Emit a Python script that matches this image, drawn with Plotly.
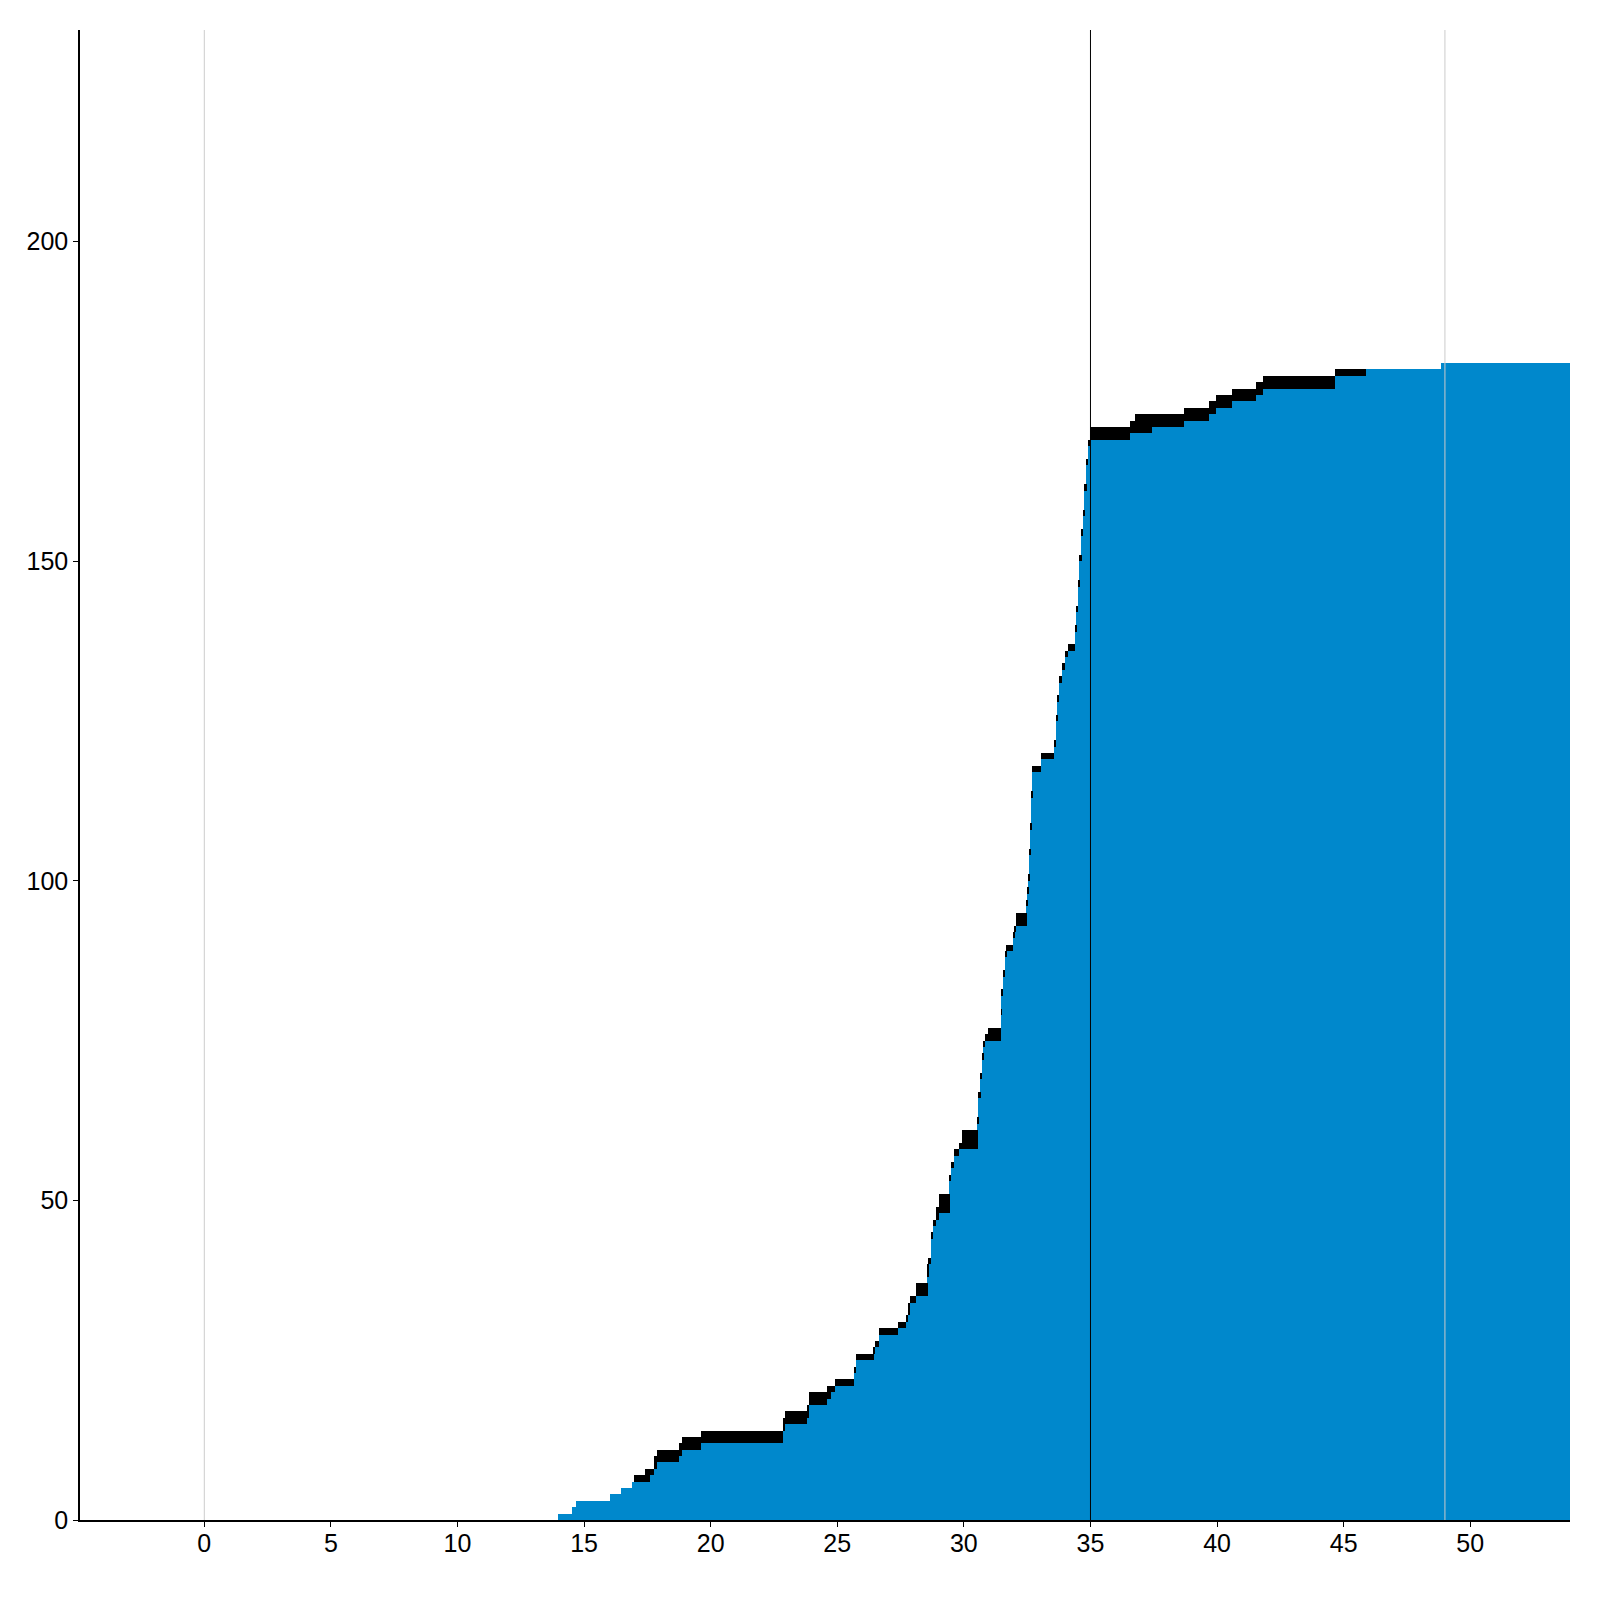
import plotly.graph_objects as go

# Step start positions (x) of each bar segment
x_start = [13.97, 14.53, 14.68, 16.03, 16.46, 16.93, 16.97, 17.41, 17.60, 17.76,
           17.88, 18.75, 18.87, 19.62, 22.87, 22.93, 23.79, 23.88, 24.59, 24.75,
           24.91, 25.66, 25.74, 26.45, 26.49, 26.64, 27.39, 27.71, 27.79, 27.87,
           28.10, 28.58, 28.62, 28.69, 28.79, 28.90, 29.02, 29.44, 29.50, 29.62,
           29.82, 29.92, 30.54, 30.59, 30.66, 30.72, 30.78, 30.84, 30.95, 31.47,
           31.50, 31.56, 31.63, 31.68, 31.95, 32.00, 32.06, 32.49, 32.52, 32.55,
           32.60, 32.63, 32.67, 32.71, 32.84, 33.04, 33.56, 33.64, 33.69, 33.76,
           33.89, 33.99, 34.13, 34.39, 34.45, 34.52, 34.58, 34.65, 34.72, 34.78,
           34.85, 34.91, 34.98, 36.56, 36.76, 37.43, 38.69, 39.68, 39.96, 40.59,
           41.54, 41.81, 44.66, 45.88, 48.84]
x_last_end = 54.5

# Blue series (cumulative)
blue_values = [1, 2, 3, 4, 5, 6, 6, 6, 7, 8,
               9, 10, 11, 12, 14, 15, 16, 18, 19, 20,
               21, 23, 25, 26, 27, 29, 30, 31, 32, 34,
               35, 38, 40, 44, 46, 47, 48, 53, 55, 57,
               58, 58, 62, 66, 69, 72, 74, 75, 75, 79,
               82, 85, 88, 89, 91, 92, 93, 96, 98, 100,
               104, 108, 113, 117, 117, 119, 121, 125, 128, 131,
               133, 135, 136, 139, 142, 146, 150, 154, 157, 161,
               165, 168, 169, 170, 170, 171, 172, 173, 174, 175,
               176, 177, 179, 180, 181]

# Black series stacked on top
black_values = [0, 0, 0, 0, 0, 0, 1, 2, 1, 2,
                2, 2, 2, 2, 2, 2, 2, 2, 2, 1,
                1, 1, 1, 1, 1, 1, 1, 1, 2, 1,
                2, 2, 1, 1, 1, 2, 3, 1, 1, 1,
                1, 3, 1, 1, 1, 1, 1, 1, 2, 1,
                1, 1, 1, 1, 1, 1, 2, 1, 1, 1,
                1, 1, 1, 1, 1, 1, 1, 1, 1, 1,
                1, 1, 1, 1, 1, 1, 1, 1, 1, 1,
                1, 1, 2, 2, 3, 2, 2, 2, 2, 2,
                2, 2, 1, 0, 0]

x_ticks = [0, 5, 10, 15, 20, 25, 30, 35, 40, 45, 50]
y_ticks = [0, 50, 100, 150, 200]
vlines = [(0, "#cccccc"), (35, "#000000"), (49, "#cccccc")]

edges = x_start + [x_last_end]
mids = [(edges[i] + edges[i + 1]) / 2 for i in range(len(x_start))]
widths = [edges[i + 1] - edges[i] for i in range(len(x_start))]

fig = go.Figure()
fig.add_trace(go.Bar(x=mids, y=blue_values, width=widths,
                     marker=dict(color="#0088cc", line=dict(width=0)),
                     showlegend=False, hoverinfo="skip"))
fig.add_trace(go.Bar(x=mids, y=black_values, width=widths,
                     marker=dict(color="#000000", line=dict(width=0)),
                     showlegend=False, hoverinfo="skip"))

for xv, col in vlines:
    fig.add_shape(type="line", x0=xv, x1=xv, y0=0, y1=1, xref="x", yref="paper",
                  line=dict(color=col, width=1), layer="above")

fig.update_layout(
    width=1600, height=1600,
    barmode="stack",
    margin=dict(l=72, r=38, t=22, b=88),
    paper_bgcolor="white", plot_bgcolor="white",
    font=dict(family="Liberation Sans, Arial, sans-serif", size=25, color="#000"),
    xaxis=dict(range=[-4.91, 53.94], tickvals=x_ticks, showgrid=False, zeroline=False,
               showline=True, linecolor="#000", linewidth=1.5, ticks="outside",
               ticklen=5, tickcolor="#000", tickfont=dict(size=25),
               ticklabelstandoff=-5),
    yaxis=dict(range=[0, 233.1], tickvals=y_ticks, showgrid=False, zeroline=False,
               showline=True, linecolor="#000", linewidth=1.5, ticks="outside",
               ticklen=5, tickcolor="#000", tickfont=dict(size=25)),
)

fig.write_html("out.html")
